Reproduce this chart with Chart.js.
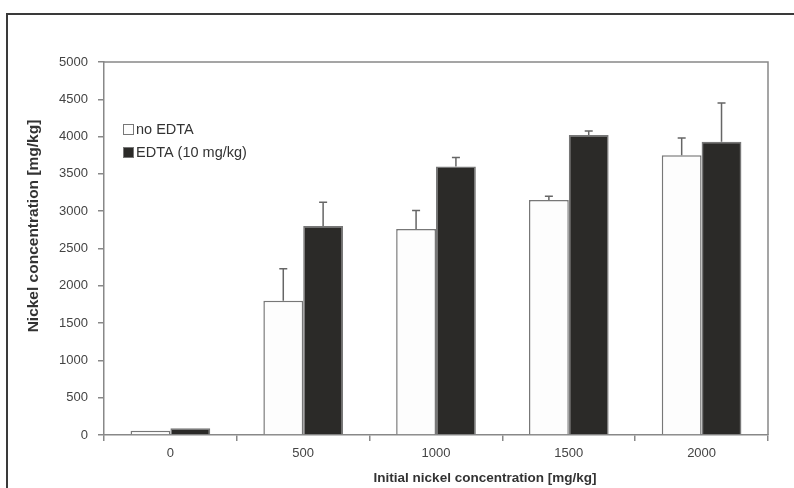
<!DOCTYPE html>
<html>
<head>
<meta charset="utf-8">
<script src="https://cdn.jsdelivr.net/npm/chart.js@4.4.1/dist/chart.umd.min.js"></script>
<style>
    html, body { margin: 0; padding: 0; background: #fff; }
    #wrap { width: 794px; height: 488px; position: relative; }
</style>
</head>
<body>
<div id="wrap"><canvas id="chart" width="794" height="488"></canvas></div>
<script>
// chart data
var categories = ['0', '500', '1000', '1500', '2000'];
var noEdta = [58, 1800, 2760, 3150, 3750];
var noEdtaErr = [0, 430, 250, 50, 230];
var edta = [90, 2800, 3600, 4020, 3930];
var edtaErr = [0, 320, 120, 55, 520];
var yTicks = [0, 500, 1000, 1500, 2000, 2500, 3000, 3500, 4000, 4500, 5000];

var FONT = '"Liberation Sans", Arial, sans-serif';

// frame, plot box, error bars, legend, axis titles
var extras = {
    id: 'extras',
    beforeDraw: function(chart) {
        var ctx = chart.ctx;
        ctx.save();
        ctx.strokeStyle = '#3a3a3a';
        ctx.lineWidth = 2;
        ctx.beginPath();
        ctx.moveTo(7, 488);
        ctx.lineTo(7, 14);
        ctx.lineTo(794, 14);
        ctx.stroke();
        ctx.restore();
    },
    afterDatasetsDraw: function(chart) {
        var ctx = chart.ctx;
        var area = chart.chartArea;
        var y = chart.scales.y;
        var errs = [noEdtaErr, edtaErr];

        ctx.save();
        // top and right edges of plot box
        ctx.strokeStyle = '#888';
        ctx.lineWidth = 1.5;
        ctx.beginPath();
        ctx.moveTo(area.left, area.top);
        ctx.lineTo(area.right, area.top);
        ctx.lineTo(area.right, area.bottom);
        ctx.stroke();

        // error bars (upper only)
        ctx.strokeStyle = '#666';
        ctx.lineWidth = 1.5;
        errs.forEach(function(err, di) {
            var meta = chart.getDatasetMeta(di);
            var vals = chart.data.datasets[di].data;
            meta.data.forEach(function(bar, i) {
                if (!err[i]) return;
                var top = y.getPixelForValue(vals[i] + err[i]);
                ctx.beginPath();
                ctx.moveTo(bar.x, bar.y);
                ctx.lineTo(bar.x, top);
                ctx.moveTo(bar.x - 4, top);
                ctx.lineTo(bar.x + 4, top);
                ctx.stroke();
            });
        });

        // legend
        ctx.font = '14.5px ' + FONT;
        ctx.textBaseline = 'middle';
        chart.data.datasets.forEach(function(ds, i) {
            var ly = 129 + i * 23;
            ctx.fillStyle = ds.backgroundColor;
            ctx.fillRect(123, ly - 5, 11, 11);
            ctx.strokeStyle = '#777';
            ctx.lineWidth = 1;
            ctx.strokeRect(123.5, ly - 4.5, 10, 10);
            ctx.fillStyle = '#333';
            ctx.fillText(ds.label, 136, ly + 1);
        });

        // x axis title
        ctx.font = 'bold 13.5px ' + FONT;
        ctx.textAlign = 'center';
        ctx.fillStyle = '#333';
        ctx.fillText('Initial nickel concentration [mg/kg]', 485, 478);

        // y axis title
        ctx.translate(34, 226);
        ctx.rotate(-Math.PI / 2);
        ctx.font = 'bold 15.5px ' + FONT;
        ctx.fillText('Nickel concentration [mg/kg]', 0, 0);
        ctx.restore();
    }
};

new Chart(document.getElementById('chart'), {
    type: 'bar',
    data: {
        labels: categories,
        datasets: [{
            label: 'no EDTA',
            data: noEdta,
            backgroundColor: '#fdfdfd',
            borderColor: '#777',
            borderWidth: 1.5,
            categoryPercentage: 0.6,
            barPercentage: 1.0
        }, {
            label: 'EDTA (10 mg/kg)',
            data: edta,
            backgroundColor: '#2b2a28',
            borderColor: '#777',
            borderWidth: 1.5,
            categoryPercentage: 0.6,
            barPercentage: 1.0
        }]
    },
    options: {
        responsive: false,
        animation: false,
        layout: { padding: { left: 8, top: 62, right: 26, bottom: 0 } },
        plugins: {
            legend: { display: false },
            tooltip: { enabled: false }
        },
        scales: {
            x: {
                afterFit: function(s) { s.height = 53; },
                grid: {
                    offset: true,
                    drawOnChartArea: false,
                    drawTicks: true,
                    tickLength: 6,
                    color: '#888',
                    lineWidth: 1.5
                },
                border: { color: '#888', width: 1.5 },
                ticks: {
                    color: '#444',
                    padding: 5,
                    font: { family: FONT, size: 13 }
                }
            },
            y: {
                min: 0,
                max: 5000,
                afterFit: function(s) { s.width = 96; },
                afterBuildTicks: function(s) {
                    s.ticks = yTicks.map(function(v) { return { value: v }; });
                },
                grid: {
                    drawOnChartArea: false,
                    drawTicks: true,
                    tickLength: 6,
                    color: '#888',
                    lineWidth: 1.5
                },
                border: { color: '#888', width: 1.5 },
                ticks: {
                    color: '#444',
                    padding: 10,
                    font: { family: FONT, size: 13 },
                    callback: function(v) { return String(v); }
                }
            }
        }
    },
    plugins: [extras]
});
</script>
</body>
</html>
